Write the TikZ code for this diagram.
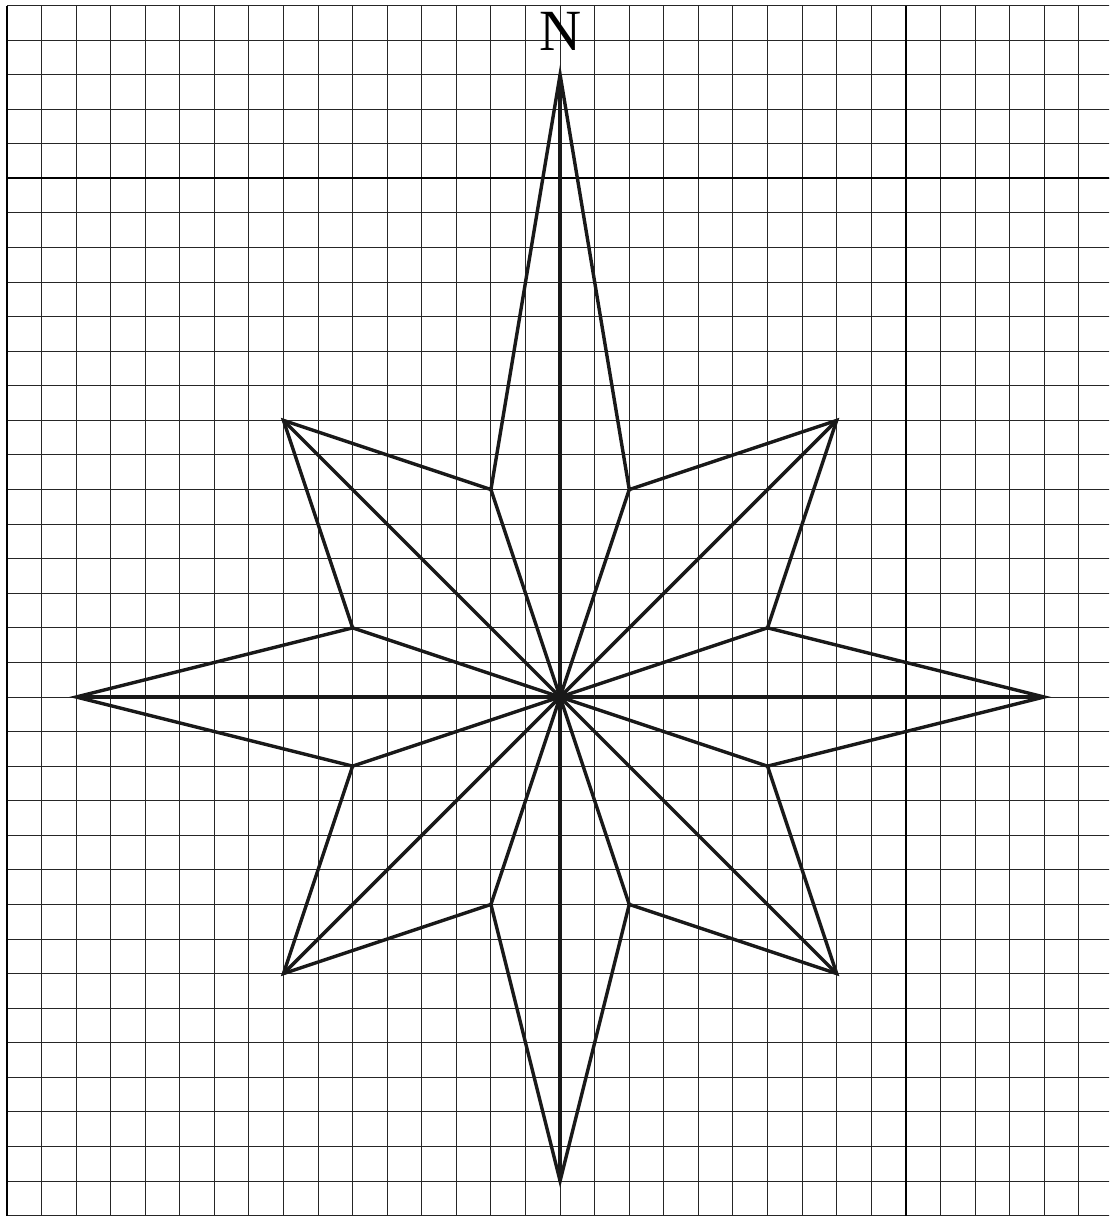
\documentclass[tikz,border=0pt]{standalone}
\usepackage{fontspec}
\setmainfont{Liberation Serif}
\begin{document}
\begin{tikzpicture}
\tikzset{
  gridline/.style={line width=0.8pt, draw=black!85},
  heavygrid/.style={line width=1.6pt, draw=black},
  starline/.style={line width=2.8pt, draw=black!90, line join=miter, line cap=butt}
}
\useasboundingbox (-16.2,-15.04) rectangle (15.88,20.16);
\fill[white] (-16.2,-15.04) rectangle (15.88,20.16);
% grid
\begin{scope}
\clip (-16.2,-15.04) rectangle (15.88,20.16);
\foreach \x in {-16,...,15} \draw[gridline] (\x,-15) -- (\x,20);
\foreach \y in {-15,...,20} \draw[gridline] (-16,\y) -- (16,\y);
\draw[heavygrid] (10,-15) -- (10,20);
\draw[heavygrid] (-16,15) -- (16,15);
\draw[heavygrid] (-16,-15) -- (-16,20);
\end{scope}
% star points
\coordinate (O) at (0,0);
\coordinate (N) at (0,18);
\coordinate (S) at (0,-14);
\coordinate (E) at (14,0);
\coordinate (W) at (-14,0);
\coordinate (NE) at (8,8);
\coordinate (NW) at (-8,8);
\coordinate (SE) at (8,-8);
\coordinate (SW) at (-8,-8);
\coordinate (a1) at (2,6);
\coordinate (a2) at (6,2);
\coordinate (a3) at (6,-2);
\coordinate (a4) at (2,-6);
\coordinate (a5) at (-2,-6);
\coordinate (a6) at (-6,-2);
\coordinate (a7) at (-6,2);
\coordinate (a8) at (-2,6);
% outline
\draw[starline] (N) -- (a1) -- (NE) -- (a2) -- (E) -- (a3) -- (SE) -- (a4) -- (S)
  -- (a5) -- (SW) -- (a6) -- (W) -- (a7) -- (NW) -- (a8) -- cycle;
% spokes
\draw[starline] (N) -- (S);
\draw[starline] (W) -- (E);
\draw[starline] (NE) -- (SW);
\draw[starline] (NW) -- (SE);
\foreach \p in {a1,a2,a3,a4,a5,a6,a7,a8} \draw[starline] (O) -- (\p);
% label
\node[font=\fontsize{48}{50}\selectfont, inner sep=0pt] (lblN) at (0,19.25) {N};
\end{tikzpicture}
\end{document}
